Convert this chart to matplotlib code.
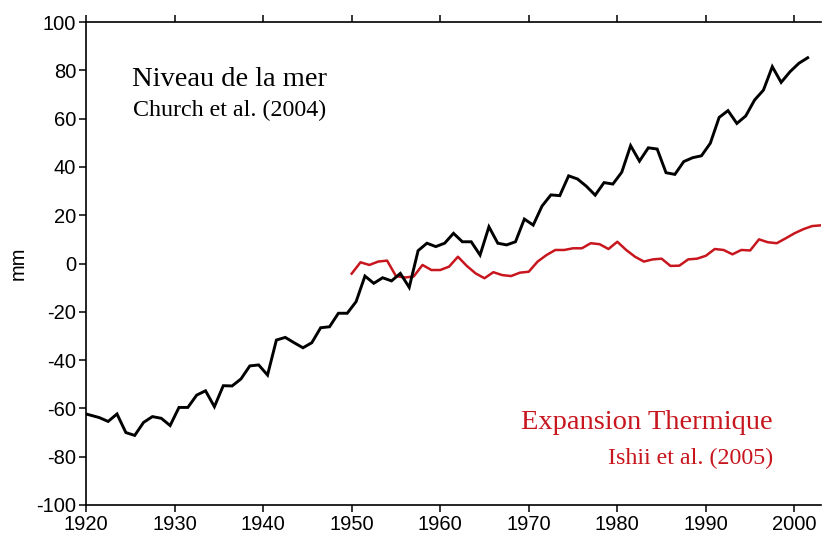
import matplotlib
matplotlib.use("Agg")
import matplotlib.pyplot as plt
import numpy as np

plt.rcParams['axes.unicode_minus'] = False

# Sea level (Church et al. 2004), mid-year values
sea_years = [1919.5 + i for i in range(83)]
sea_level = [-61.8, -62.8, -63.8, -65.4, -62.3, -70.0, -71.2, -65.8, -63.4, -64.1,
             -67.1, -59.6, -59.6, -54.5, -52.7, -59.3, -50.6, -50.7, -47.8, -42.4,
             -42.0, -46.2, -31.7, -30.6, -32.8, -34.9, -32.8, -26.6, -26.2, -20.6,
             -20.6, -15.8, -5.2, -8.2, -5.9, -7.2, -4.1, -9.9, 5.3, 8.4,
             7.0, 8.4, 12.5, 9.0, 9.0, 3.5, 15.2, 8.4, 7.7, 9.0,
             18.4, 15.9, 23.8, 28.4, 28.1, 36.3, 35.0, 32.0, 28.3, 33.5,
             32.9, 37.8, 48.8, 42.4, 47.9, 47.4, 37.6, 36.9, 42.2, 43.8,
             44.6, 49.8, 60.5, 63.3, 58.0, 61.1, 67.7, 71.8, 81.5, 75.0,
             79.4, 82.9, 85.2]

# Thermal expansion (Ishii et al. 2005)
th_years = list(range(1950, 2004))
thermal = [-4.2, 0.5, -0.6, 0.8, 1.2, -5.2, -5.8, -5.4, -0.6, -2.7,
           -2.7, -1.3, 2.8, -1.0, -4.1, -6.1, -3.6, -4.8, -5.2, -3.8,
           -3.4, 0.8, 3.5, 5.6, 5.6, 6.3, 6.3, 8.4, 8.0, 6.0,
           9.0, 5.6, 2.8, 0.8, 1.7, 2.0, -1.0, -0.9, 1.7, 2.0,
           3.2, 6.0, 5.6, 3.8, 5.6, 5.4, 10.0, 8.8, 8.4, 10.4,
           12.5, 14.2, 15.5, 15.8]

x_ticks = list(range(1920, 2001, 10))
y_ticks = list(range(-100, 101, 20))

RED = '#c8161e'

fig = plt.figure(figsize=(8.23, 5.36), dpi=100)
ax = fig.add_axes([86/823, 1-505/536, 735/823, 483/536])

ax.plot(sea_years, sea_level, color='black', lw=2.1, solid_joinstyle='miter', zorder=3)
ax.plot(th_years, thermal, color=RED, lw=1.8, zorder=2)

ax.set_xlim(1920, 2003)
ax.set_ylim(-100, 100)
ax.set_xticks(x_ticks)
ax.set_yticks(y_ticks)

sans = ['Liberation Sans', 'DejaVu Sans']
serif = ['Liberation Serif', 'DejaVu Serif']
for lab in ax.get_xticklabels() + ax.get_yticklabels():
    lab.set_family(sans)
    lab.set_fontsize(14.5)
ax.tick_params(axis='both', direction='out', length=5, width=1.1, pad=2, colors='black')
ax.tick_params(axis='x', top=True)
ax.spines['right'].set_visible(False)
for s in ['left', 'bottom', 'top']:
    ax.spines[s].set_linewidth(1.2)

ax.set_ylabel('mm', family=sans, fontsize=14.5, labelpad=6)

def fx(px):
    return (px - 86) / 735
def fy(py):
    return (505 - py) / 483

ax.text(fx(132), fy(86), 'Niveau de la mer', transform=ax.transAxes,
        family=serif, fontsize=20.5, color='black', ha='left', va='baseline')
ax.text(fx(133), fy(116), 'Church et al. (2004)', transform=ax.transAxes,
        family=serif, fontsize=17.3, color='black', ha='left', va='baseline')
ax.text(fx(773), fy(429), 'Expansion Thermique', transform=ax.transAxes,
        family=serif, fontsize=20.5, color=RED, ha='right', va='baseline')
ax.text(fx(773), fy(464), 'Ishii et al. (2005)', transform=ax.transAxes,
        family=serif, fontsize=17.3, color=RED, ha='right', va='baseline')

fig.savefig('out.png', dpi=100)
